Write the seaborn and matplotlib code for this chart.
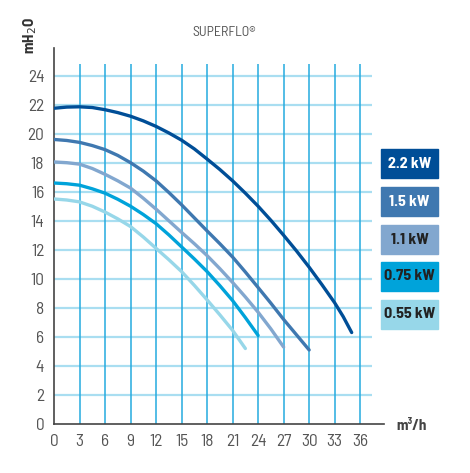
import matplotlib
matplotlib.use('Agg')
import matplotlib.pyplot as plt
import seaborn as sns
import pandas as pd
from matplotlib.patches import Rectangle

# pump curves (flow m3/h -> head mH2O)
powers = ['2.2 kW', '1.5 kW', '1.1 kW', '0.75 kW', '0.55 kW']
flow_22 = [0, 1.5, 3, 4.5, 6, 7.5, 9, 10.5, 12, 13.5, 15, 16.5, 18, 19.5, 21, 22.5,
           24, 25.5, 27, 28.5, 30, 31.5, 33, 34, 35]
head_22 = [21.75, 21.83, 21.85, 21.8, 21.65, 21.45, 21.2, 20.88, 20.5, 20.05, 19.55, 18.95,
           18.25, 17.53, 16.75, 15.9, 15.0, 14.03, 13.0, 11.93, 10.8, 9.6, 8.35, 7.4, 6.3]
flow_15 = [0, 1.5, 3, 4.5, 6, 7.5, 9, 10.5, 12, 13.5, 15, 16.5, 18, 19.5, 21, 22.5,
           24, 25.5, 27, 28.5, 30]
head_15 = [19.6, 19.53, 19.4, 19.18, 18.9, 18.5, 18.0, 17.42, 16.75, 15.95, 15.1, 14.2,
           13.3, 12.42, 11.5, 10.47, 9.4, 8.32, 7.2, 6.15, 5.1]
flow_11 = [0, 1.5, 3, 4.5, 6, 7.5, 9, 10.5, 12, 13.5, 15, 16.5, 18, 19.5, 21, 22.5,
           24, 25.5, 27]
head_11 = [18.05, 18.0, 17.9, 17.6, 17.2, 16.75, 16.25, 15.55, 14.8, 14.0, 13.2, 12.42,
           11.6, 10.7, 9.75, 8.75, 7.7, 6.55, 5.3]
flow_075 = [0, 1.5, 3, 4.5, 6, 7.5, 9, 10.5, 12, 13.5, 15, 16.5, 18, 19.5, 21, 22.5, 24]
head_075 = [16.6, 16.55, 16.45, 16.2, 15.9, 15.48, 15.0, 14.43, 13.8, 13.03, 12.2, 11.37,
            10.5, 9.53, 8.5, 7.33, 6.1]
flow_055 = [0, 1.5, 3, 4.5, 6, 7.5, 9, 10.5, 12, 13.5, 15, 16.5, 18, 19.5, 21, 22.5]
head_055 = [15.5, 15.43, 15.3, 15.0, 14.6, 14.13, 13.6, 12.88, 12.1, 11.32, 10.5, 9.55,
            8.55, 7.52, 6.45, 5.2]

x_ticks = list(range(0, 37, 3))
y_ticks = list(range(0, 25, 2))

colors = ['#004e97', '#3f78b0', '#82a7cf', '#00a3da', '#97d7e9']
text_colors = ['white', 'white', '#222222', '#222222', '#222222']

flows = [flow_22, flow_15, flow_11, flow_075, flow_055]
heads = [head_22, head_15, head_11, head_075, head_055]
rows = []
for p, q, h in zip(powers, flows, heads):
    for a, b in zip(q, h):
        rows.append({'power': p, 'flow': a, 'head': b})
df = pd.DataFrame(rows)

sns.set_style('white')
plt.rcParams['font.family'] = ['Barlow Semi Condensed', 'DejaVu Sans']

fig = plt.figure(figsize=(4.70, 4.73), dpi=100)
ax = fig.add_axes([54 / 470, 49 / 473, 330 / 470, 376 / 473])

# grid drawn by hand so it stops short of the axis ends
ax.hlines(y_ticks[1:], 0, 37.4, color='#a9def1', lw=1.6, zorder=1)
ax.vlines(x_ticks[1:], 0, 24.8, color='#25abdf', lw=1.1, zorder=1)

sns.lineplot(data=df, x='flow', y='head', hue='power', hue_order=powers,
             palette=colors, lw=2.4, ax=ax, legend=False, sort=False, zorder=3)

ax.set_xlim(0, 38.8)
ax.set_ylim(0, 25.9)
ax.set_xticks(x_ticks)
ax.set_yticks(y_ticks)
ax.set_xticks([38.8], minor=True)
ax.set_yticks([25.9], minor=True)
ax.set_xlabel('')
ax.set_ylabel('')
for s in ['top', 'right']:
    ax.spines[s].set_visible(False)
for s in ['left', 'bottom']:
    ax.spines[s].set_color('#444444')
    ax.spines[s].set_linewidth(1.2)
ax.tick_params(which='both', direction='out', length=4, width=1.2, color='#444444',
               labelsize=12.5, labelcolor='#555555', pad=3)

fig.text(224 / 470, 1 - 32 / 473, 'SUPERFLO®', ha='center', va='center',
         fontsize=10, color='#555555')
fig.text(30 / 470, 1 - 35 / 473, r'mH$_2$O', ha='center', va='center', rotation=90,
         fontsize=11, color='#333333', fontweight='bold')
fig.text(396 / 470, 1 - 426 / 473, 'm³/h', ha='left', va='center',
         fontsize=11, color='#444444', fontweight='bold')

# power swatches on the right
box_top = [149, 187, 225, 262, 300]
for p, c, tc, t in zip(powers, colors, text_colors, box_top):
    fig.patches.append(Rectangle((381 / 470, 1 - (t + 29) / 473), 57 / 470, 29 / 473,
                                 transform=fig.transFigure, color=c))
    fig.text(409.5 / 470, 1 - (t + 14.5) / 473, p, ha='center', va='center',
             fontsize=11.5, color=tc, fontweight='bold')

fig.savefig('out.png', dpi=100)
